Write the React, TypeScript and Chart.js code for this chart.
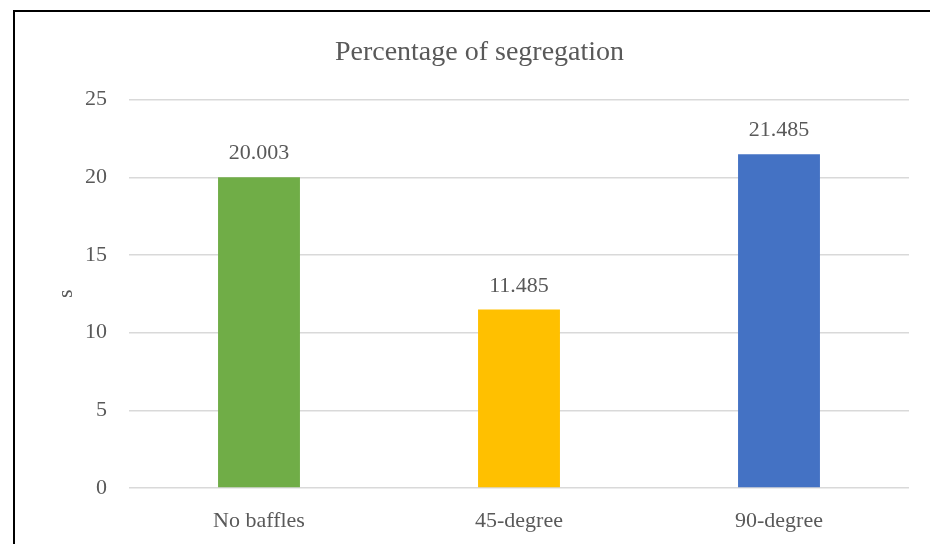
import React, { useEffect, useRef } from "react";
import { Chart, registerables } from "chart.js";

Chart.register(...registerables);

const categories = ["No baffles", "45-degree", "90-degree"];
const segregation = [20.003, 11.485, 21.485];
const barColors = ["#70AD47", "#FFC000", "#4472C4"];
const yTicks = [0, 5, 10, 15, 20, 25];

const FONT = "'Liberation Serif', 'Times New Roman', serif";
const TEXT = "#595959";

// Writes each bar's value above it
const valueLabels = {
  id: "valueLabels",
  afterDatasetsDraw(chart: any) {
    const { ctx } = chart;
    const meta = chart.getDatasetMeta(0);
    const values = chart.data.datasets[0].data as number[];
    ctx.save();
    ctx.font = `22px ${FONT}`;
    ctx.fillStyle = TEXT;
    ctx.textAlign = "center";
    ctx.textBaseline = "alphabetic";
    meta.data.forEach((bar: any, i: number) => {
      ctx.fillText(values[i].toFixed(3), bar.x, bar.y - 18);
    });
    ctx.restore();
  },
};

export default function App() {
  const canvasRef = useRef<HTMLCanvasElement | null>(null);

  useEffect(() => {
    if (!canvasRef.current) return;
    const chart = new Chart(canvasRef.current, {
      type: "bar",
      data: {
        labels: categories,
        datasets: [
          {
            label: "s",
            data: segregation,
            backgroundColor: barColors,
            borderWidth: 0,
            barPercentage: 0.315,
            categoryPercentage: 1,
          },
        ],
      },
      options: {
        animation: false,
        responsive: false,
        maintainAspectRatio: false,
        layout: { padding: { left: 50, right: 21, top: 36, bottom: 0 } },
        plugins: {
          legend: { display: false },
          tooltip: { enabled: false },
          title: {
            display: true,
            text: "Percentage of segregation",
            color: TEXT,
            font: { family: FONT, size: 28, weight: "normal" },
            padding: { top: 0, bottom: 30 },
          },
        },
        scales: {
          x: {
            grid: { display: false, drawTicks: false },
            border: { display: false },
            ticks: {
              color: TEXT,
              font: { family: FONT, size: 22 },
              padding: 20,
            },
            afterFit(scale: any) {
              scale.height = 56;
            },
          },
          y: {
            min: 0,
            max: 25,
            afterBuildTicks(scale: any) {
              scale.ticks = yTicks.map((v) => ({ value: v }));
            },
            grid: { color: "#D9D9D9", lineWidth: 1.5, drawTicks: false },
            border: { display: false },
            ticks: {
              color: TEXT,
              font: { family: FONT, size: 22 },
              padding: 22,
            },
            title: {
              display: true,
              text: "s",
              color: TEXT,
              font: { family: FONT, size: 22 },
              padding: { top: 3, bottom: 0 },
            },
            afterFit(scale: any) {
              scale.width = 79;
            },
          },
        },
      },
      plugins: [valueLabels],
    });
    return () => chart.destroy();
  }, []);

  return (
    <div
      style={{
        position: "fixed",
        left: 0,
        top: 0,
        width: 930,
        height: 544,
        background: "#fff",
        overflow: "hidden",
      }}
    >
      <div
        style={{
          position: "absolute",
          left: 13,
          top: 10,
          width: 930,
          height: 560,
          borderTop: "2px solid #000",
          borderLeft: "2px solid #000",
          boxSizing: "border-box",
        }}
      />
      <canvas
        ref={canvasRef}
        width={930}
        height={544}
        style={{ position: "absolute", left: 0, top: 0, width: 930, height: 544 }}
      />
    </div>
  );
}
